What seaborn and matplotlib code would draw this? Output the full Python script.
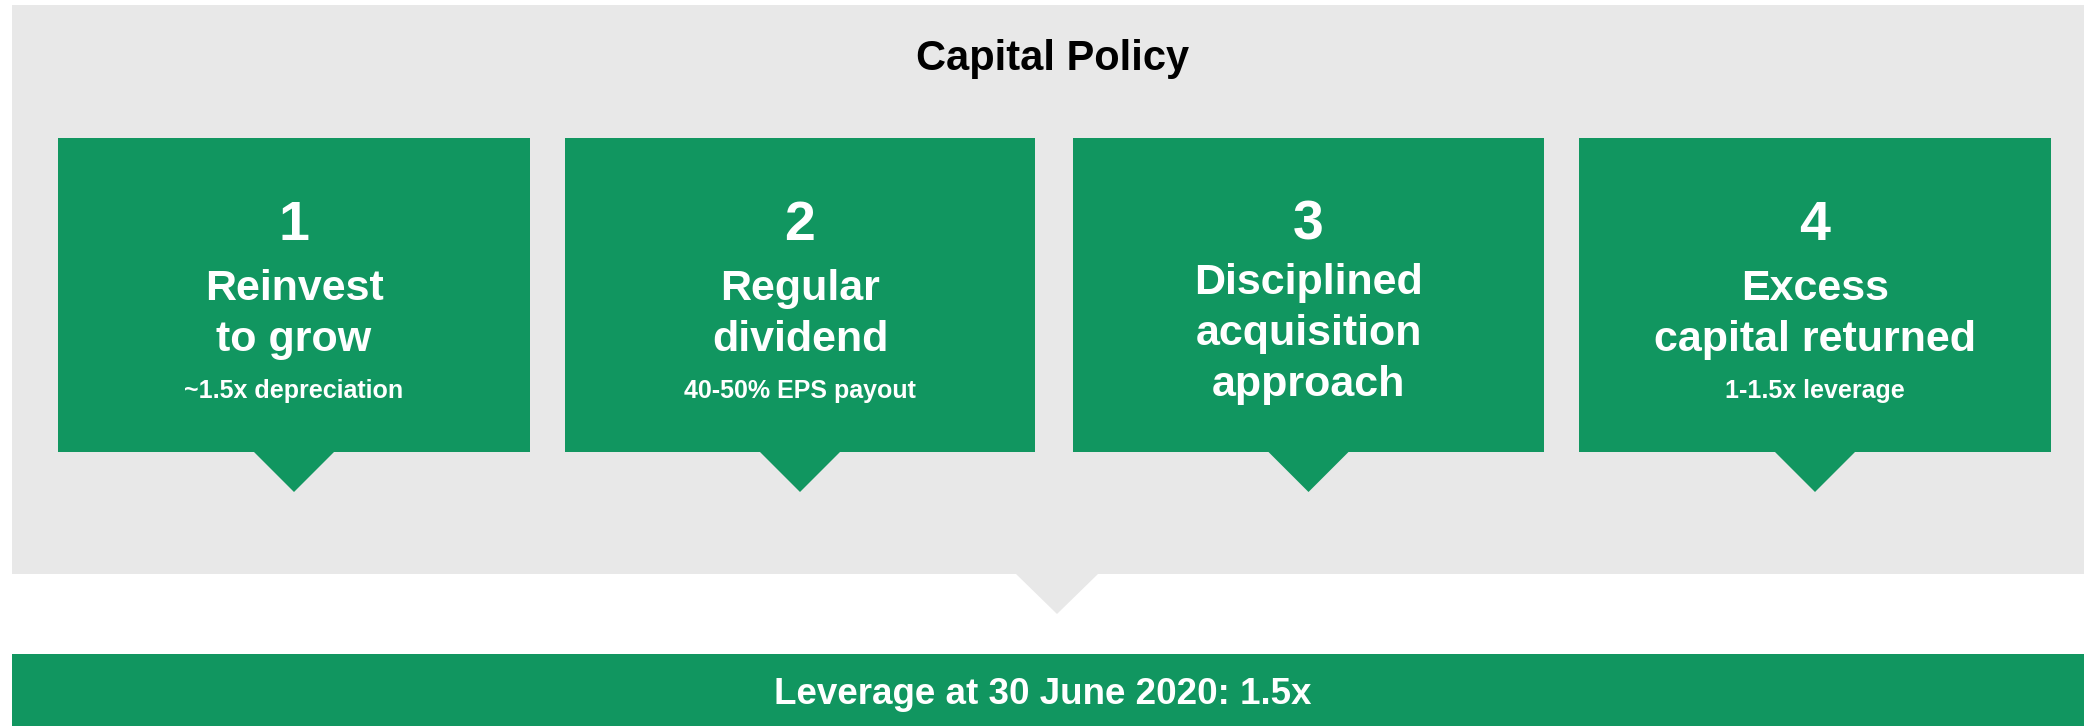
import seaborn as sns
import matplotlib.pyplot as plt
from matplotlib.patches import Rectangle, Polygon

# content
title = "Capital Policy"
numbers = ["1", "2", "3", "4"]
headlines = ["Reinvest\nto grow", "Regular\ndividend", "Disciplined\nacquisition\napproach", "Excess\ncapital returned"]
subtexts = ["~1.5x depreciation", "40-50% EPS payout", "", "1-1.5x leverage"]
footer = "Leverage at 30 June 2020: 1.5x"

GREEN = "#119660"
GREY = "#E8E8E8"
W, H = 2084, 726

sns.set_theme(style="white")
plt.rcParams['font.family'] = ['Liberation Sans', 'DejaVu Sans']

fig = plt.figure(figsize=(W / 100, H / 100), dpi=100)
ax = fig.add_axes([0, 0, 1, 1])
ax.set_xlim(0, W)
ax.set_ylim(H, 0)
ax.axis("off")

# grey panel with pointer
ax.add_patch(Rectangle((12, 5), W - 12, 569, color=GREY, lw=0))
ax.add_patch(Polygon([(1015, 573), (1099, 573), (1057, 614)], color=GREY, lw=0))
ax.text(1053, 59, title, ha="center", va="center", fontsize=30, fontweight="bold", color="black")

# four boxes
lefts = [58, 565, 1073, 1579]
widths = [472, 470, 471, 472]
top, bottom = 138, 452
for i, (num, head, sub) in enumerate(zip(numbers, headlines, subtexts)):
    x0, w = lefts[i], widths[i]
    cx = x0 + w / 2
    ax.add_patch(Rectangle((x0, top), w, bottom - top, color=GREEN, lw=0))
    ax.add_patch(Polygon([(cx - 41, bottom - 1), (cx + 41, bottom - 1), (cx, 492)], color=GREEN, lw=0))
    ax.text(cx, 226, num, ha="center", va="center", fontsize=40, fontweight="bold", color="white")
    y0 = 289 if sub else 283
    step = 51
    for j, line in enumerate(head.split("\n")):
        ax.text(cx, y0 + j * step, line, ha="center", va="center", fontsize=31,
                fontweight="bold", color="white")
    if sub:
        ax.text(cx, 391, sub, ha="center", va="center", fontsize=18,
                fontweight="bold", color="white")

# footer banner
ax.add_patch(Rectangle((12, 654), W - 12, H - 654, color=GREEN, lw=0))
ax.text(1043, 694, footer, ha="center", va="center", fontsize=26.5, fontweight="bold", color="white")

fig.savefig("out.png", dpi=100)
